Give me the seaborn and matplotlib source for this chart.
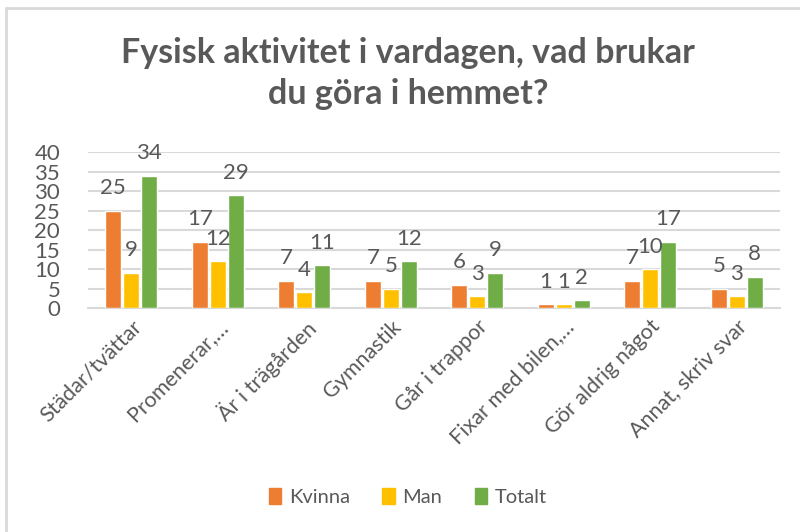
import pandas as pd
import matplotlib.pyplot as plt
import seaborn as sns
from matplotlib.lines import Line2D

# chart data
categories = ["Städar/tvättar", "Promenerar,…", "Är i trägården", "Gymnastik",
              "Går i trappor", "Fixar med bilen,…", "Gör aldrig något", "Annat, skriv svar"]
kvinna = [25, 17, 7, 7, 6, 1, 7, 5]
man = [9, 12, 4, 5, 3, 1, 10, 3]
totalt = [34, 29, 11, 12, 9, 2, 17, 8]
series_names = ["Kvinna", "Man", "Totalt"]
colors = ["#ED7D31", "#FFC000", "#70AD47"]
title = "Fysisk aktivitet i vardagen, vad brukar\ndu göra i hemmet?"

GREY = "#595959"
GRID = "#D9D9D9"

sns.set_theme(style="white")
plt.rcParams['font.family'] = ['Lato', 'DejaVu Sans']

df = pd.DataFrame({
    "kategori": categories * 3,
    "serie": [s for s in series_names for _ in categories],
    "antal": kvinna + man + totalt,
})

fig = plt.figure(figsize=(8, 5.32), dpi=100)
ax = fig.add_axes([0.11, 0.421, 0.865, 0.293])

sns.barplot(data=df, x="kategori", y="antal", hue="serie", palette=colors,
            saturation=1, width=0.62, gap=0.1, ax=ax, legend=False, zorder=3)

for cont in ax.containers:
    ax.bar_label(cont, padding=9, fontsize=16, color=GREY)

ax.set_ylim(0, 40)
ax.set_yticks(range(0, 41, 5))
ax.yaxis.grid(True, color=GRID, linewidth=1.5, zorder=0)
ax.xaxis.grid(False)
ax.set_xlabel("")
ax.set_ylabel("")
for side in ["left", "right", "top"]:
    ax.spines[side].set_visible(False)
ax.spines["bottom"].set_color(GRID)
ax.spines["bottom"].set_linewidth(1.5)
ax.tick_params(axis="y", length=0, labelsize=16, labelcolor=GREY, pad=20)
ax.tick_params(axis="x", length=0, labelsize=15.5, labelcolor=GREY, pad=6)
plt.setp(ax.get_xticklabels(), rotation=45, ha="right", rotation_mode="anchor")

fig.text(0.51, 0.862, title, ha="center", va="center", fontsize=24.5,
         fontweight="bold", color=GREY, linespacing=1.35)

handles = [plt.Rectangle((0, 0), 1, 1, color=c) for c in colors]
fig.legend(handles, series_names, loc="center", bbox_to_anchor=(0.51, 0.066),
           ncol=3, frameon=False, fontsize=14.5, labelcolor=GREY,
           handlelength=0.6, handleheight=0.9, handletextpad=0.4, columnspacing=1.6)

# chart frame (left and top edges visible)
fig.add_artist(Line2D([0.008, 0.008], [0, 0.985], transform=fig.transFigure,
                      color=GRID, linewidth=2))
fig.add_artist(Line2D([0.008, 1], [0.985, 0.985], transform=fig.transFigure,
                      color=GRID, linewidth=2))

fig.savefig("out.png", dpi=100, facecolor="white")
